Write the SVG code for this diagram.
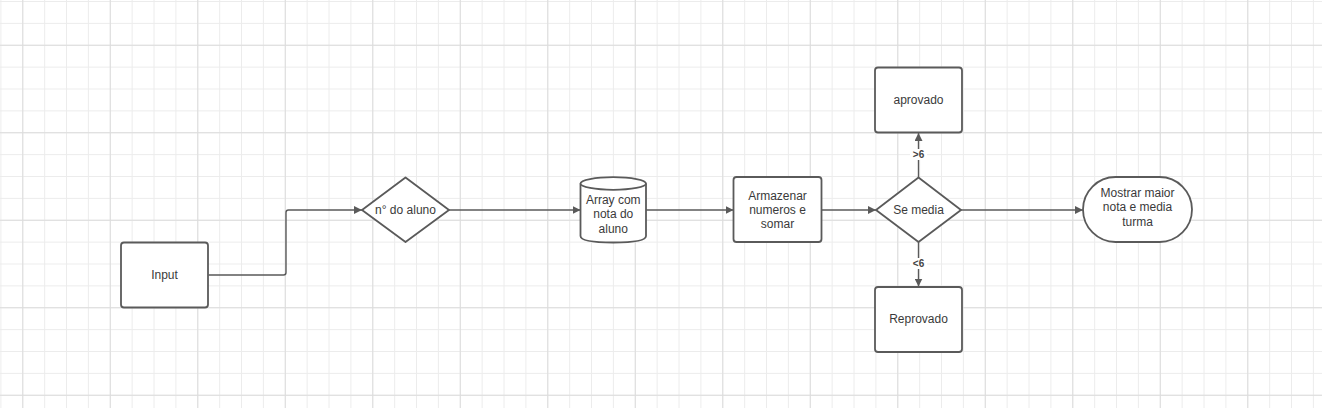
<svg xmlns="http://www.w3.org/2000/svg" width="1322" height="408" viewBox="0 0 1322 408">
<defs>
<pattern id="minor" x="0.4" y="1" width="21.875" height="21.875" patternUnits="userSpaceOnUse">
<path d="M0.5 0V21.875M0 0.5H21.875" fill="none" stroke="#ececec" stroke-width="1"/>
</pattern>
<pattern id="major" x="22.275" y="44.75" width="87.5" height="87.5" patternUnits="userSpaceOnUse">
<path d="M0.5 0V87.5M0 0.5H87.5" fill="none" stroke="#dcdcdc" stroke-width="1"/>
</pattern>
<marker id="arr" viewBox="0 0 10 10" refX="10" refY="5" markerWidth="8" markerHeight="8" markerUnits="userSpaceOnUse" orient="auto">
<path d="M0 0L10 5L0 10Z" fill="#5a5a5a"/>
</marker>
<style>
.shape{fill:#ffffff;stroke:#5a5a5a;stroke-width:1.8;stroke-linejoin:round}
.t{font-family:"Liberation Sans",Arial,sans-serif;font-size:12px;fill:#3a3a3a;text-anchor:middle}
.lbl{font-family:"Liberation Sans",Arial,sans-serif;font-size:10px;font-weight:bold;fill:#444444;text-anchor:middle}
.c{fill:none;stroke:#5a5a5a;stroke-width:1.4;marker-end:url(#arr)}
</style>
</defs>
<rect width="1322" height="408" fill="#ffffff"/>
<rect width="1322" height="408" fill="url(#minor)"/>
<rect width="1322" height="408" fill="url(#major)"/>

<g id="connectors">
<path class="c" d="M208.5 275H283.5Q286 275 286 272.5V212.5Q286 210 288.5 210H362"/>
<path class="c" d="M449 210H580.5"/>
<path class="c" d="M646 210H733.5"/>
<path class="c" d="M822 210H876"/>
<path class="c" d="M961 210H1083"/>
<path class="c" d="M918.5 177.5V133"/>
<path class="c" d="M918.5 242V286.5"/>
<rect x="910" y="149" width="17" height="11" fill="#ffffff"/>
<text class="lbl" x="918.5" y="158">&gt;6</text>
<rect x="910" y="258" width="17" height="11" fill="#ffffff"/>
<text class="lbl" x="918.5" y="267">&lt;6</text>
</g>

<g id="input">
<rect class="shape" x="121" y="242.5" width="87" height="65" rx="3"/>
<text class="t" x="164.5" y="279">Input</text>
</g>

<g id="n-aluno">
<path class="shape" d="M405.5 177.5L449 210L405.5 242L362 210Z"/>
<text class="t" x="405.5" y="214">n° do aluno</text>
</g>

<g id="array">
<path class="shape" d="M580.5 183.5V236Q580.5 242.5 613.25 242.5Q646 242.5 646 236V183.5"/>
<ellipse class="shape" cx="613.25" cy="183.5" rx="32.75" ry="6.3"/>
<text class="t" x="613.25" y="204">Array com</text>
<text class="t" x="613.25" y="218">nota do</text>
<text class="t" x="613.25" y="233">aluno</text>
</g>

<g id="armazenar">
<rect class="shape" x="733.5" y="177" width="88" height="65" rx="3"/>
<text class="t" x="777.5" y="200">Armazenar</text>
<text class="t" x="777.5" y="214">numeros e</text>
<text class="t" x="777.5" y="228">somar</text>
</g>

<g id="se-media">
<path class="shape" d="M918.5 177.5L961 210L918.5 242L876 210Z"/>
<text class="t" x="918.5" y="214">Se media</text>
</g>

<g id="aprovado">
<rect class="shape" x="875" y="67.5" width="87" height="65" rx="3"/>
<text class="t" x="918.5" y="104">aprovado</text>
</g>

<g id="reprovado">
<rect class="shape" x="875" y="287" width="87" height="65" rx="3"/>
<text class="t" x="918.5" y="323">Reprovado</text>
</g>

<g id="mostrar">
<rect class="shape" x="1083" y="177" width="109" height="65" rx="32.5"/>
<text class="t" x="1137.5" y="197">Mostrar maior</text>
<text class="t" x="1137.5" y="211">nota e media</text>
<text class="t" x="1137.5" y="226">turma</text>
</g>
</svg>
